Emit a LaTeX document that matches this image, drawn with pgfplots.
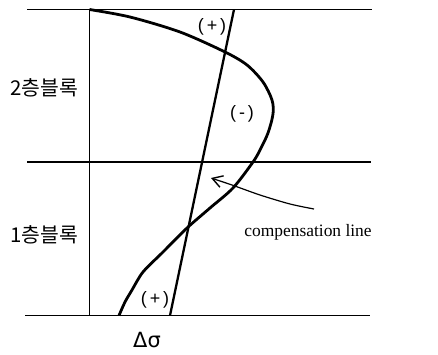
\documentclass[border=0pt]{standalone}
\usepackage{pgfplots}
\pgfplotsset{compat=1.18}
\usepackage{fontspec}
\setmainfont{Liberation Serif}
\newfontfamily\kr{Noto Sans CJK KR}
\newfontfamily\lsans{Liberation Sans}
\newfontfamily\dvs{DejaVu Sans}
\usetikzlibrary{arrows.meta}

\begin{document}
\begin{tikzpicture}
\begin{axis}[scale only axis,width=438bp,height=355bp,
  xmin=0,xmax=438,ymin=0,ymax=355,y dir=reverse,
  hide axis,clip=false]
% keep the full frame as the page
\addplot[draw=none,forget plot] coordinates {(0,0) (438,355)};
% floor lines
\addplot[black,line width=1.5pt] coordinates {(27,9.5) (372,9.5)};
\addplot[black,line width=1.4pt] coordinates {(27,162) (371,162)};
\addplot[black,line width=1.5pt] coordinates {(25,315.5) (370,315.5)};
% reference axis
\addplot[black,line width=1pt] coordinates {(89.5,9.5) (89.5,315.5)};
% stress distribution
\addplot[black,line width=2.8pt,smooth] coordinates {
(89.5,9.5) (130,17) (180,32) (225,52) (247,65) (263,82) (272,100) (273,114)
(268,133) (260,150) (253,162) (233,188) (210,208) (187,228) (163,252)
(143,272) (132,290) (125,302) (119,315.5)};
% compensation line
\addplot[black,line width=2.3pt] coordinates {(170,315.5) (234,9.5)};
% arrow
\addplot[black,line width=1.2pt,smooth,-{Straight Barb[length=10pt,width=12pt,line width=1.4pt]}] coordinates {
(314,209) (290,204) (260,195) (232,185) (211,178)};
\node[font=\kr\fontsize{20.5}{22}\selectfont] at (axis cs:44,88) {2층블록};
\node[font=\kr\fontsize{20.5}{22}\selectfont] at (axis cs:44,235) {1층블록};
\node[font=\fontsize{17.5}{20}\selectfont,anchor=base] at (axis cs:308,236) {compensation line};
\node[font=\lsans\fontsize{18}{20}\selectfont] at (axis cs:212,27) {(\,+\,)};
\node[font=\lsans\fontsize{18}{20}\selectfont] at (axis cs:242,114) {(\,-\,)};
\node[font=\lsans\fontsize{18}{20}\selectfont] at (axis cs:155,300) {(\,+\,)};
\node[font=\dvs\fontsize{21}{23}\selectfont,inner sep=0pt] at (axis cs:147,340) {Δσ};
\end{axis}
\end{tikzpicture}
\end{document}
